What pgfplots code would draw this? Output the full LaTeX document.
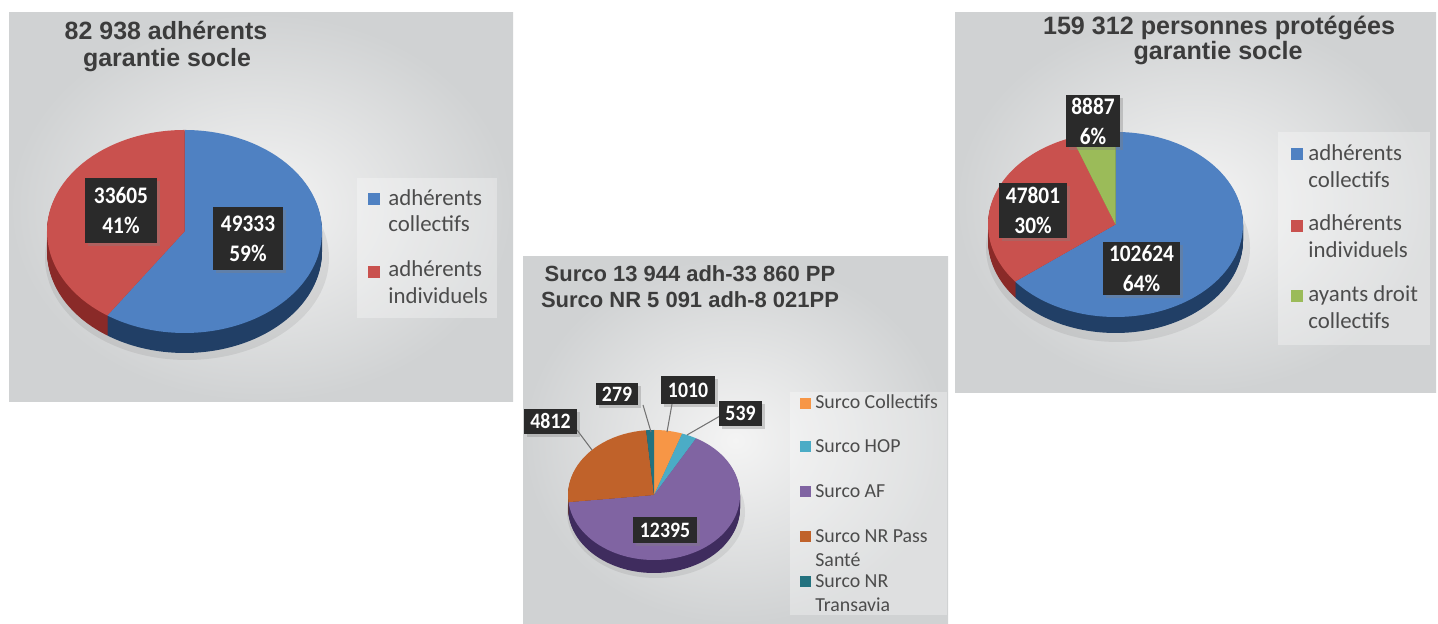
\documentclass[border=0pt]{standalone}
\usepackage{fontspec}
\setmainfont{Carlito}
\newfontfamily\titlefont{Liberation Sans}
\newfontfamily\labfont{Carlito}[FakeStretch=0.9]
\usepackage{pgfplots}
\usepackage{pgfplotstable}
\pgfplotsset{compat=1.18}
\usetikzlibrary{shadows}

\definecolor{bgin}{HTML}{F4F4F4}
\definecolor{bgout}{HTML}{D0D2D3}
\definecolor{labbg}{HTML}{2A2A2A}
\definecolor{titlec}{HTML}{3C3C3C}
% panel 1
\definecolor{Ac0}{HTML}{4F81C2}\definecolor{Ad0}{HTML}{213F66}
\definecolor{Ac1}{HTML}{C9514E}\definecolor{Ad1}{HTML}{8A2A28}
% panel 2
\definecolor{Bc0}{HTML}{F79646}\definecolor{Bd0}{HTML}{B5621E}
\definecolor{Bc1}{HTML}{4BACC6}\definecolor{Bd1}{HTML}{2A7A90}
\definecolor{Bc2}{HTML}{8064A2}\definecolor{Bd2}{HTML}{3F2C5E}
\definecolor{Bc3}{HTML}{C0622A}\definecolor{Bd3}{HTML}{7E3A12}
\definecolor{Bc4}{HTML}{23727F}\definecolor{Bd4}{HTML}{144650}
% panel 3
\definecolor{Cc0}{HTML}{4F81C2}\definecolor{Cd0}{HTML}{213F66}
\definecolor{Cc1}{HTML}{C9514E}\definecolor{Cd1}{HTML}{8A2A28}
\definecolor{Cc2}{HTML}{9BBB59}\definecolor{Cd2}{HTML}{627F2E}

\pgfplotstableread{
label value
collectifs 49333
individuels 33605
}\dataA
\pgfplotstableread{
label value
SurcoCollectifs 1010
SurcoHOP 539
SurcoAF 12395
SurcoNRPassSante 4812
SurcoNRTransavia 279
}\dataB
\pgfplotstableread{
label value
adherentscollectifs 102624
adherentsindividuels 47801
ayantsdroitcollectifs 8887
}\dataC

% #1 table, #2 cx, #3 cy, #4 rx, #5 ry, #6 colour prefix
\newcommand\piewedges[6]{%
  \pgfplotstablegetrowsof{#1}\pgfmathtruncatemacro\last{\pgfplotsretval-1}%
  \gdef\tot{0}%
  \foreach \i in {0,...,\last}{\pgfplotstablegetelem{\i}{value}\of#1\xdef\tot{\fpeval{\tot+\pgfplotsretval}}}%
  \gdef\ang{90}%
  \foreach \i in {0,...,\last}{%
    \pgfplotstablegetelem{\i}{value}\of#1%
    \xdef\aend{\fpeval{round(\ang-360*\pgfplotsretval/\tot,3)}}%
    \edef\cmd{\noexpand\fill[#6\i] (axis cs:#2,#3) -- (axis cs:{#2+#4*cos(\ang)},{#3+#5*sin(\ang)}) arc[start angle=\ang, end angle=\aend, x radius=#4, y radius=#5] -- cycle;}%
    \cmd
    \xdef\ang{\aend}%
  }%
}
% #1 table #2 cx #3 cy #4 rx #5 ry #6 depth #7 letter
\newcommand\pie[7]{%
  \foreach \k in {#6,...,1}{\pgfmathsetmacro\yk{#3-\k}\piewedges{#1}{#2}{\yk}{#4}{#5}{#7d}}%
  \piewedges{#1}{#2}{#3}{#4}{#5}{#7c}%
}

\tikzset{
  lab/.style={fill=labbg, text=white, align=center, inner sep=0pt,
    drop shadow={opacity=0.35, shadow xshift=0.06cm, shadow yshift=-0.06cm}},
  lab1/.style={lab, font=\labfont\bfseries\fontsize{13.5}{17}\selectfont},
  lab2/.style={lab, font=\labfont\bfseries\fontsize{12.5}{14}\selectfont},
  ttl/.style={anchor=base, inner sep=0pt, text=titlec},
  leg/.style={anchor=base west, inner sep=0pt, text=black!70},
  sq/.style={minimum size=0.24cm, inner sep=0pt},
  legbox/.style={fill=white, fill opacity=0.3, draw=none},
  pshadow/.style={fill=black, fill opacity=0.07},
}

\begin{document}
\begin{tikzpicture}
\useasboundingbox (0,0) rectangle (28.76cm,12.48cm);
\begin{axis}[at={(0,0)}, anchor=south west, scale only axis,
  width=28.76cm, height=12.48cm, xmin=0, xmax=1438, ymin=0, ymax=624,
  hide axis, clip=false, disabledatascaling]
% backgrounds
\shade[inner color=bgin, outer color=bgout] (axis cs:9,222) rectangle (axis cs:513,611);
\shade[inner color=bgin, outer color=bgout] (axis cs:523,0) rectangle (axis cs:948,367);
\shade[inner color=bgin, outer color=bgout] (axis cs:955,231) rectangle (axis cs:1436,611);

% ---------- panel 1 ----------
\node[ttl, font=\titlefont\bfseries\fontsize{14.2}{17}\selectfont] at (axis cs:166,584) {82 938 adhérents};
\node[ttl, font=\titlefont\bfseries\fontsize{14.2}{17}\selectfont] at (axis cs:167,557) {garantie socle};
\fill[pshadow] (axis cs:187,366) ellipse [x radius=142, y radius=102];
\pie{\dataA}{184.5}{392.5}{137.5}{101.5}{20}{A}
\node[lab1, minimum width=1.44cm, minimum height=1.3cm] at (axis cs:121,413.5) {33605\\41\%};
\node[lab1, minimum width=1.4cm, minimum height=1.26cm] at (axis cs:248,385.5) {49333\\59\%};
\fill[legbox] (axis cs:357,306) rectangle (axis cs:497,446);
\node[sq, fill=Ac0] at (axis cs:374,425) {};
\node[sq, fill=Ac1] at (axis cs:374,352) {};
\begin{scope}[every node/.style={leg, font=\fontsize{13}{15}\selectfont}]
\node at (axis cs:388,418) {adhérents};
\node at (axis cs:388,392) {collectifs};
\node at (axis cs:388,347) {adhérents};
\node at (axis cs:388,320) {individuels};
\end{scope}

% ---------- panel 2 ----------
\node[ttl, font=\titlefont\bfseries\fontsize{12.5}{15}\selectfont] at (axis cs:690,342) {Surco 13 944 adh-33 860 PP};
\node[ttl, font=\titlefont\bfseries\fontsize{12.5}{15}\selectfont] at (axis cs:690,316) {Surco NR 5 091 adh-8 021PP};
\fill[pshadow] (axis cs:656,112) ellipse [x radius=89, y radius=66];
\pie{\dataB}{654}{129}{86}{65}{13}{B}
\draw[black!55, line width=0.6pt] (axis cs:643,219) -- (axis cs:651,192);
\draw[black!55, line width=0.6pt] (axis cs:672,220) -- (axis cs:667,192);
\draw[black!55, line width=0.6pt] (axis cs:720,208) -- (axis cs:687,189);
\draw[black!55, line width=0.6pt] (axis cs:577,194) -- (axis cs:592,174);
\node[lab2, minimum width=0.84cm, minimum height=0.44cm] at (axis cs:617,230) {279};
\node[lab2, minimum width=1.08cm, minimum height=0.56cm] at (axis cs:688,234) {1010};
\node[lab2, minimum width=0.86cm, minimum height=0.5cm] at (axis cs:740.5,210.5) {539};
\node[lab2, minimum width=1.06cm, minimum height=0.5cm] at (axis cs:550.5,202.5) {4812};
\node[lab2, minimum width=1.28cm, minimum height=0.52cm] at (axis cs:665,94) {12395};
\fill[legbox] (axis cs:790,9) rectangle (axis cs:947,232);
\node[sq, minimum size=0.22cm, fill=Bc0] at (axis cs:805,220.5) {};
\node[sq, minimum size=0.22cm, fill=Bc1] at (axis cs:805,177) {};
\node[sq, minimum size=0.22cm, fill=Bc2] at (axis cs:805,132) {};
\node[sq, minimum size=0.22cm, fill=Bc3] at (axis cs:805,87) {};
\node[sq, minimum size=0.22cm, fill=Bc4] at (axis cs:805,42) {};
\begin{scope}[every node/.style={leg, font=\fontsize{11.3}{13}\selectfont}]
\node at (axis cs:815,215) {Surco Collectifs};
\node at (axis cs:815,171) {Surco HOP};
\node at (axis cs:815,126) {Surco AF};
\node at (axis cs:815,81) {Surco NR Pass};
\node at (axis cs:815,57) {Santé};
\node at (axis cs:815,36) {Surco NR};
\node at (axis cs:815,12) {Transavia};
\end{scope}

% ---------- panel 3 ----------
\node[ttl, font=\titlefont\bfseries\fontsize{14.3}{17}\selectfont] at (axis cs:1219,589) {159 312 personnes protégées};
\node[ttl, font=\titlefont\bfseries\fontsize{14.3}{17}\selectfont] at (axis cs:1218,564) {garantie socle};
\fill[pshadow] (axis cs:1118,376) ellipse [x radius=132, y radius=94];
\pie{\dataC}{1115.5}{399.5}{127.5}{92.5}{16}{C}
\node[lab1, minimum width=1.08cm, minimum height=1.04cm] at (axis cs:1093,503) {8887\\6\%};
\node[lab1, minimum width=1.36cm, minimum height=1.1cm] at (axis cs:1033,413.5) {47801\\30\%};
\node[lab1, minimum width=1.54cm, minimum height=1.06cm] at (axis cs:1141.5,355.5) {102624\\64\%};
\fill[legbox] (axis cs:1278,279) rectangle (axis cs:1430,492);
\node[sq, fill=Cc0] at (axis cs:1296.5,470) {};
\node[sq, fill=Cc1] at (axis cs:1296.5,398) {};
\node[sq, fill=Cc2] at (axis cs:1296.5,328) {};
\begin{scope}[every node/.style={leg, font=\fontsize{13}{15}\selectfont}]
\node at (axis cs:1308,463) {adhérents};
\node at (axis cs:1308,436) {collectifs};
\node at (axis cs:1308,393) {adhérents};
\node at (axis cs:1308,366) {individuels};
\node at (axis cs:1308,322) {ayants droit};
\node at (axis cs:1308,295) {collectifs};
\end{scope}
\end{axis}
\end{tikzpicture}
\end{document}
